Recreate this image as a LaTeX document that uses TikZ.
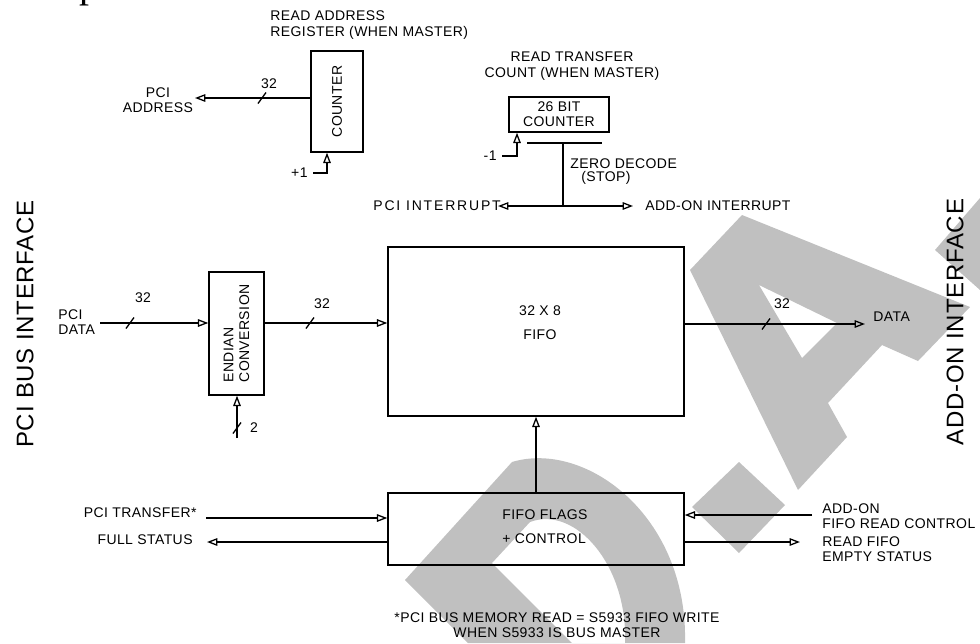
\documentclass[tikz,border=0pt]{standalone}
\usepackage{fontspec}
\setmainfont{Liberation Sans}[LetterSpace=3]
\newfontfamily\serifp{Liberation Serif}
\usetikzlibrary{arrows.meta,calc}
\definecolor{wmgray}{HTML}{C0C0C0}
\tikzset{
  sig/.style={line width=0.65pt, -{Triangle[open,length=5.2pt,width=3.8pt]}},
  wire/.style={line width=0.65pt},
  blk/.style={draw, line width=0.7pt, inner sep=0pt, font=\fontsize{7}{7.6}\selectfont},
  txt/.style={font=\fontsize{7}{7.6}\selectfont, inner sep=1pt},
  side/.style={font=\fontsize{12}{14}\selectfont, rotate=90, inner sep=0pt},
  pics/bus/.style={code={\draw[line width=0.65pt] (-4,5.5) -- (4,-5.5);}}
}

\begin{document}
\begin{tikzpicture}[x=0.5pt,y=-0.5pt]
  \useasboundingbox (0,0) rectangle (980,643);
  % 水印
  \fill[wmgray, even odd rule] (405,580) -- (512,462) .. controls (585,440) and (688,515) .. (685,643) -- (468,643) -- cycle
    (492,563) -- (530,522) .. controls (575,505) and (628,565) .. (625,643) -- (572,643) -- cycle;
  \fill[wmgray, even odd rule] (690,270) -- (742,215) -- (970,307) -- (918,361) -- (882,345) -- (828,403) -- (847,437) -- (798,490) -- cycle
    (759,285) -- (837,323) -- (802,358) -- cycle;
  \fill[wmgray] (739,462) -- (785,505) -- (739,553) -- (692,507) -- cycle;
  \fill[wmgray] (935,250) -- (980,198) -- (980,290) -- cycle;
  \node[anchor=base west, inner sep=0pt, font=\serifp\fontsize{20}{20}\selectfont] (pcut) at (79,-3) {p};

  % 侧边标题
  \node[side] (pcibus) at (25,324) {PCI BUS INTERFACE};
  \node[side] (aobus) at (955,322) {ADD-ON INTERFACE};

  % 读地址计数器
  \node[txt, align=left, anchor=west] (rdaddr) at (268,25) {READ ADDRESS\\REGISTER (WHEN MASTER)};
  \node[blk, minimum width=26pt, minimum height=50.5pt] (cnt) at (337,101.5) {\rotatebox{90}{COUNTER}};
  \coordinate (addrtip) at (195,98);
  \draw[sig] (cnt.west |- addrtip) -- (addrtip);
  \pic at (262,98) {bus};
  \node[txt] (w1) at (269,84) {32};
  \node[txt, align=center] (pciaddr) at (158,100) {PCI\\ADDRESS};
  \coordinate (inc) at (313,173);
  \draw[sig] (inc) -| ([xshift=-5pt]cnt.south);
  \node[txt, anchor=east] (inclbl) at ([xshift=-1.5pt]inc) {+1};

  % 读传输计数器
  \node[txt, align=center] (rdcnt) at (572,66) {READ TRANSFER\\COUNT (WHEN MASTER)};
  \node[blk, minimum width=50pt, minimum height=17.5pt, align=center] (tcnt) at (559,114.5) {26 BIT\\COUNTER};
  \coordinate (dec) at (502,156);
  \draw[sig] (dec) -| ([xshift=-21pt]tcnt.south);
  \node[txt, anchor=east] (declbl) at ([xshift=-1.5pt]dec) {-1};
  \coordinate (zdl) at (527,143);
  \coordinate (zdr) at (602,143);
  \draw[wire] (zdl) -- (zdr);
  \coordinate (zd) at (563,143);
  \coordinate (irq) at (563,206);
  \draw[wire] (zd) -- (irq);
  \node[txt, anchor=west] (zdtxt) at (568,164) {ZERO DECODE};
  \node[txt] (stoptxt) at (606,178) {(STOP)};
  \coordinate (pciirqtip) at (498,206);
  \coordinate (aoirqtip) at (633,206);
  \draw[sig] (irq) -- (pciirqtip);
  \draw[sig] (irq) -- (aoirqtip);
  \node[txt, anchor=west] (pciirq) at (371,206) {\addfontfeatures{LetterSpace=13}PCI INTERRUPT};
  \node[txt, anchor=west] (aoirq) at (643,206) {ADD-ON INTERRUPT};

  % 数据通路
  \node[txt, align=left, anchor=west] (pcidata) at (56,322) {PCI\\DATA};
  \node[blk, minimum width=27.5pt, minimum height=61.5pt] (endian) at (236.5,333.5) {\rotatebox{90}{\shortstack[l]{ENDIAN\\CONVERSION}}};
  \coordinate (din) at (100,323);
  \draw[sig] (din) -- (endian.west |- din);
  \pic at (130,323) {bus};
  \node[txt] (w2) at (143,298) {32};
  \coordinate (swap) at (237,438);
  \draw[sig] (swap) -- (swap |- endian.south);
  \pic at (237,428) {bus};
  \node[txt] (w3) at (254,428) {2};
  \node[blk, minimum width=148pt, minimum height=84.5pt] (fifo) at (536,331.5) {};
  \node[txt, align=center] (fifolbl) at (540,323) {32 X 8\\[4.5pt]FIFO};
  \draw[sig] (endian.east |- din) -- (fifo.west |- din);
  \pic at (310,323) {bus};
  \node[txt] (w4) at (322,304) {32};
  \coordinate (dout) at (865,324);
  \draw[sig] (fifo.east |- dout) -- (dout);
  \pic at (766,324) {bus};
  \node[txt] (w5) at (782,304) {32};
  \node[txt, anchor=west] (datalbl) at (871,317) {DATA};

  % 标志与控制
  \node[blk, minimum width=148pt, minimum height=36pt] (flags) at (536,529) {};
  \node[txt, align=left, anchor=west] (flagslbl) at (500,526.5) {FIFO FLAGS\\[4.5pt]+ CONTROL};
  \draw[sig] (flags.north) -- (fifo.south);
  \coordinate (xfer) at (206,518);
  \draw[sig] (xfer) -- (flags.west |- xfer);
  \node[txt, anchor=east] (xferlbl) at (199,513) {PCI TRANSFER*};
  \coordinate (full) at (207,542);
  \draw[sig] (flags.west |- full) -- (full);
  \node[txt, anchor=east] (fulllbl) at (195,540) {FULL STATUS};
  \coordinate (rdctl) at (812,515);
  \draw[sig] (rdctl) -- (flags.east |- rdctl);
  \node[txt, align=left, anchor=west] (rdctllbl) at (820,516.5) {ADD-ON\\FIFO READ CONTROL};
  \coordinate (empty) at (800,542);
  \draw[sig] (flags.east |- empty) -- (empty);
  \node[txt, align=left, anchor=west] (emptylbl) at (820,549.5) {READ FIFO\\EMPTY STATUS};

  % 脚注
  \node[txt, align=center] (note) at (557,625.5) {*PCI BUS MEMORY READ = S5933 FIFO WRITE\\WHEN S5933 IS BUS MASTER};
\end{tikzpicture}
\end{document}
